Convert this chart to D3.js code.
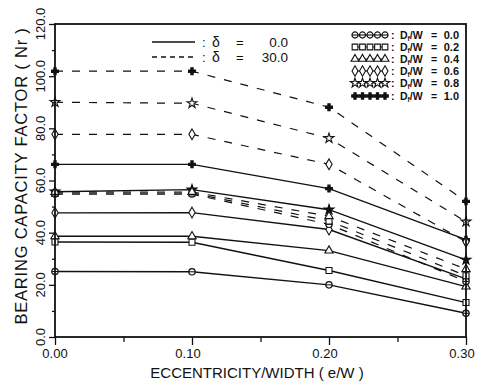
<!DOCTYPE html>
<html><head><meta charset="utf-8">
<script src="https://cdn.jsdelivr.net/npm/d3@7"></script>
<style>body{margin:0;background:#fff}svg{display:block}text{font-family:"Liberation Sans",Arial,sans-serif;fill:#111}</style>
</head><body><svg id="c" width="488" height="388"></svg>
<script>
const ew = [0.00, 0.10, 0.20, 0.30];
const dfw = ["0.0","0.2","0.4","0.6","0.8","1.0"];
const solid0 = [25.1, 25.0, 20.0, 9.1];
const solid2 = [36.4, 36.3, 25.5, 13.2];
const solid4 = [38.6, 38.6, 33.1, 19.3];
const solid6 = [47.6, 47.7, 41.2, 22.3];
const solid8 = [55.7, 56.5, 48.8, 29.6];
const solid10 = [66.2, 66.2, 56.9, 37.3];
const dash0 = [54.8, 54.8, 43.2, 21.3];
const dash2 = [55.2, 55.2, 44.5, 23.5];
const dash4 = [55.6, 55.6, 46.3, 26.0];
const dash6 = [77.7, 77.7, 66.2, 36.5];
const dash8 = [90.0, 89.6, 76.2, 44.2];
const dash10 = [101.9, 101.9, 88.1, 52.0];
const yTicks = [0,20,40,60,80,100,120];
const xTicks = [0.00,0.10,0.20,0.30];

const svg = d3.select("#c");
const x = d3.scaleLinear().domain([0,0.3]).range([55,466]);
const y = d3.scaleLinear().domain([0,120]).range([337,24]);

const symTypes = ["circle","square","triangle","diamond","star","cross"];
function marker(g, t, cx, cy, filled, k){
  k = k||1;
  if(t==="circle"){
    const p = g.append("g").attr("transform",`translate(${cx},${cy})`);
    p.append("circle").attr("r",3.2*k).attr("fill","#fff").attr("stroke","#111").attr("stroke-width",1.2);
    p.append("line").attr("x1",-3.2*k).attr("x2",3.2*k).attr("stroke","#111").attr("stroke-width",1.1);
    return;
  }
  const map = {square:[d3.symbolSquare,36],triangle:[d3.symbolTriangle,30],diamond:[d3.symbolDiamond,34],star:[d3.symbolStar,30],cross:[d3.symbolCross,26]};
  const [s,sz] = map[t];
  g.append("path").attr("d",d3.symbol(s,sz*k*k)()).attr("transform",`translate(${cx},${cy})`)
    .attr("fill", (t==="cross"||filled)?"#111":"#fff").attr("stroke","#111").attr("stroke-width",1.1);
}

const series = [
  {v:solid0,t:0,d:false},{v:solid2,t:1,d:false},{v:solid4,t:2,d:false},
  {v:solid6,t:3,d:false},{v:solid8,t:4,d:false},{v:solid10,t:5,d:false},
  {v:dash0,t:0,d:true},{v:dash2,t:1,d:true},{v:dash4,t:2,d:true},
  {v:dash6,t:3,d:true},{v:dash8,t:4,d:true},{v:dash10,t:5,d:true}
];
const line = d3.line().x((d,i)=>x(ew[i])).y(d=>y(d));
const gl = svg.append("g");
series.forEach(s=>{
  gl.append("path").attr("d",line(s.v)).attr("fill","none").attr("stroke","#111")
    .attr("stroke-width",s.d?1.2:1.4).attr("stroke-dasharray",s.d?"8,9":null);
});
series.forEach(s=>{
  s.v.forEach((d,i)=>marker(gl,symTypes[s.t],x(ew[i]),y(d),!s.d && s.t===4));
});

// frame
svg.append("rect").attr("x",55).attr("y",24).attr("width",411).attr("height",313)
  .attr("fill","none").attr("stroke","#111").attr("stroke-width",1.8);

// axes
const yAx = svg.append("g").attr("transform","translate(55,0)")
  .call(d3.axisLeft(y).tickValues(d3.range(0,121,10)).tickSize(0).tickFormat(""));
yAx.select(".domain").remove();
yAx.selectAll(".tick line").attr("x2",d=>d%20===0?-6:-3).attr("stroke","#111").attr("stroke-width",1.3);
const yLab = svg.append("g");
yTicks.forEach(t=>{
  yLab.append("text").attr("transform",`translate(45,${y(t)}) rotate(-90)`).attr("text-anchor","middle")
    .attr("font-size",13).text(t.toFixed(1));
});
const xAx = svg.append("g").attr("transform","translate(0,337)")
  .call(d3.axisBottom(x).tickValues(d3.range(0,0.301,0.05)).tickSize(0).tickFormat(""));
xAx.select(".domain").remove();
xAx.selectAll(".tick line").attr("y2",(d,i)=>i%2===0?8:5).attr("stroke","#111").attr("stroke-width",1.3);
xTicks.forEach(t=>{
  svg.append("text").attr("x",x(t)-(t===0?0:4)).attr("y",358).attr("text-anchor","middle")
    .attr("font-size",13).text(t.toFixed(2));
});

svg.append("text").attr("transform","translate(27,176) rotate(-90)").attr("text-anchor","middle")
  .attr("font-size",16.5).attr("letter-spacing",0.8).text("BEARING  CAPACITY  FACTOR  (  Nr  )");
svg.append("text").attr("x",257).attr("y",378).attr("text-anchor","middle")
  .attr("font-size",15).text("ECCENTRICITY/WIDTH  (  e/W  )");

// legend left
const lg = svg.append("g");
[["0.0",false,42],["30.0",true,57]].forEach(([v,d,yy])=>{
  lg.append("line").attr("x1",152).attr("x2",195).attr("y1",yy).attr("y2",yy).attr("stroke","#111")
    .attr("stroke-width",1.3).attr("stroke-dasharray",d?"5,4":null);
  lg.append("text").attr("x",202).attr("y",yy+5).attr("font-size",13).text(":");
  lg.append("text").attr("x",212).attr("y",yy+5).attr("font-size",14).text("δ");
  lg.append("text").attr("x",236).attr("y",yy+5).attr("font-size",13).text("=");
  lg.append("text").attr("x",288).attr("y",yy+5).attr("font-size",13.5).attr("text-anchor","end").text(v);
});
// legend right
const rowsY = [35,47,59,71,83,96];
dfw.forEach((v,i)=>{
  const yy = rowsY[i];
  lg.append("line").attr("x1",352).attr("x2",388).attr("y1",yy).attr("y2",yy).attr("stroke","#111").attr("stroke-width",1.2);
  for(let k=0;k<5;k++) marker(lg,symTypes[i],355+k*7.5,yy,false,0.95);
  lg.append("text").attr("x",391).attr("y",yy+4).attr("font-size",10.5).attr("font-weight","bold").text(":");
  const tx = lg.append("text").attr("x",400).attr("y",yy+4).attr("font-size",10.5).attr("font-weight","bold");
  tx.append("tspan").text("D");
  tx.append("tspan").attr("font-size",6.5).attr("dy",2).text("f");
  tx.append("tspan").attr("dy",-2).text("/W");
  lg.append("text").attr("x",431).attr("y",yy+4).attr("font-size",10.5).attr("font-weight","bold").text("=");
  lg.append("text").attr("x",459).attr("y",yy+4).attr("font-size",11).attr("font-weight","bold").attr("text-anchor","end").text(v);
});
</script></body></html>
